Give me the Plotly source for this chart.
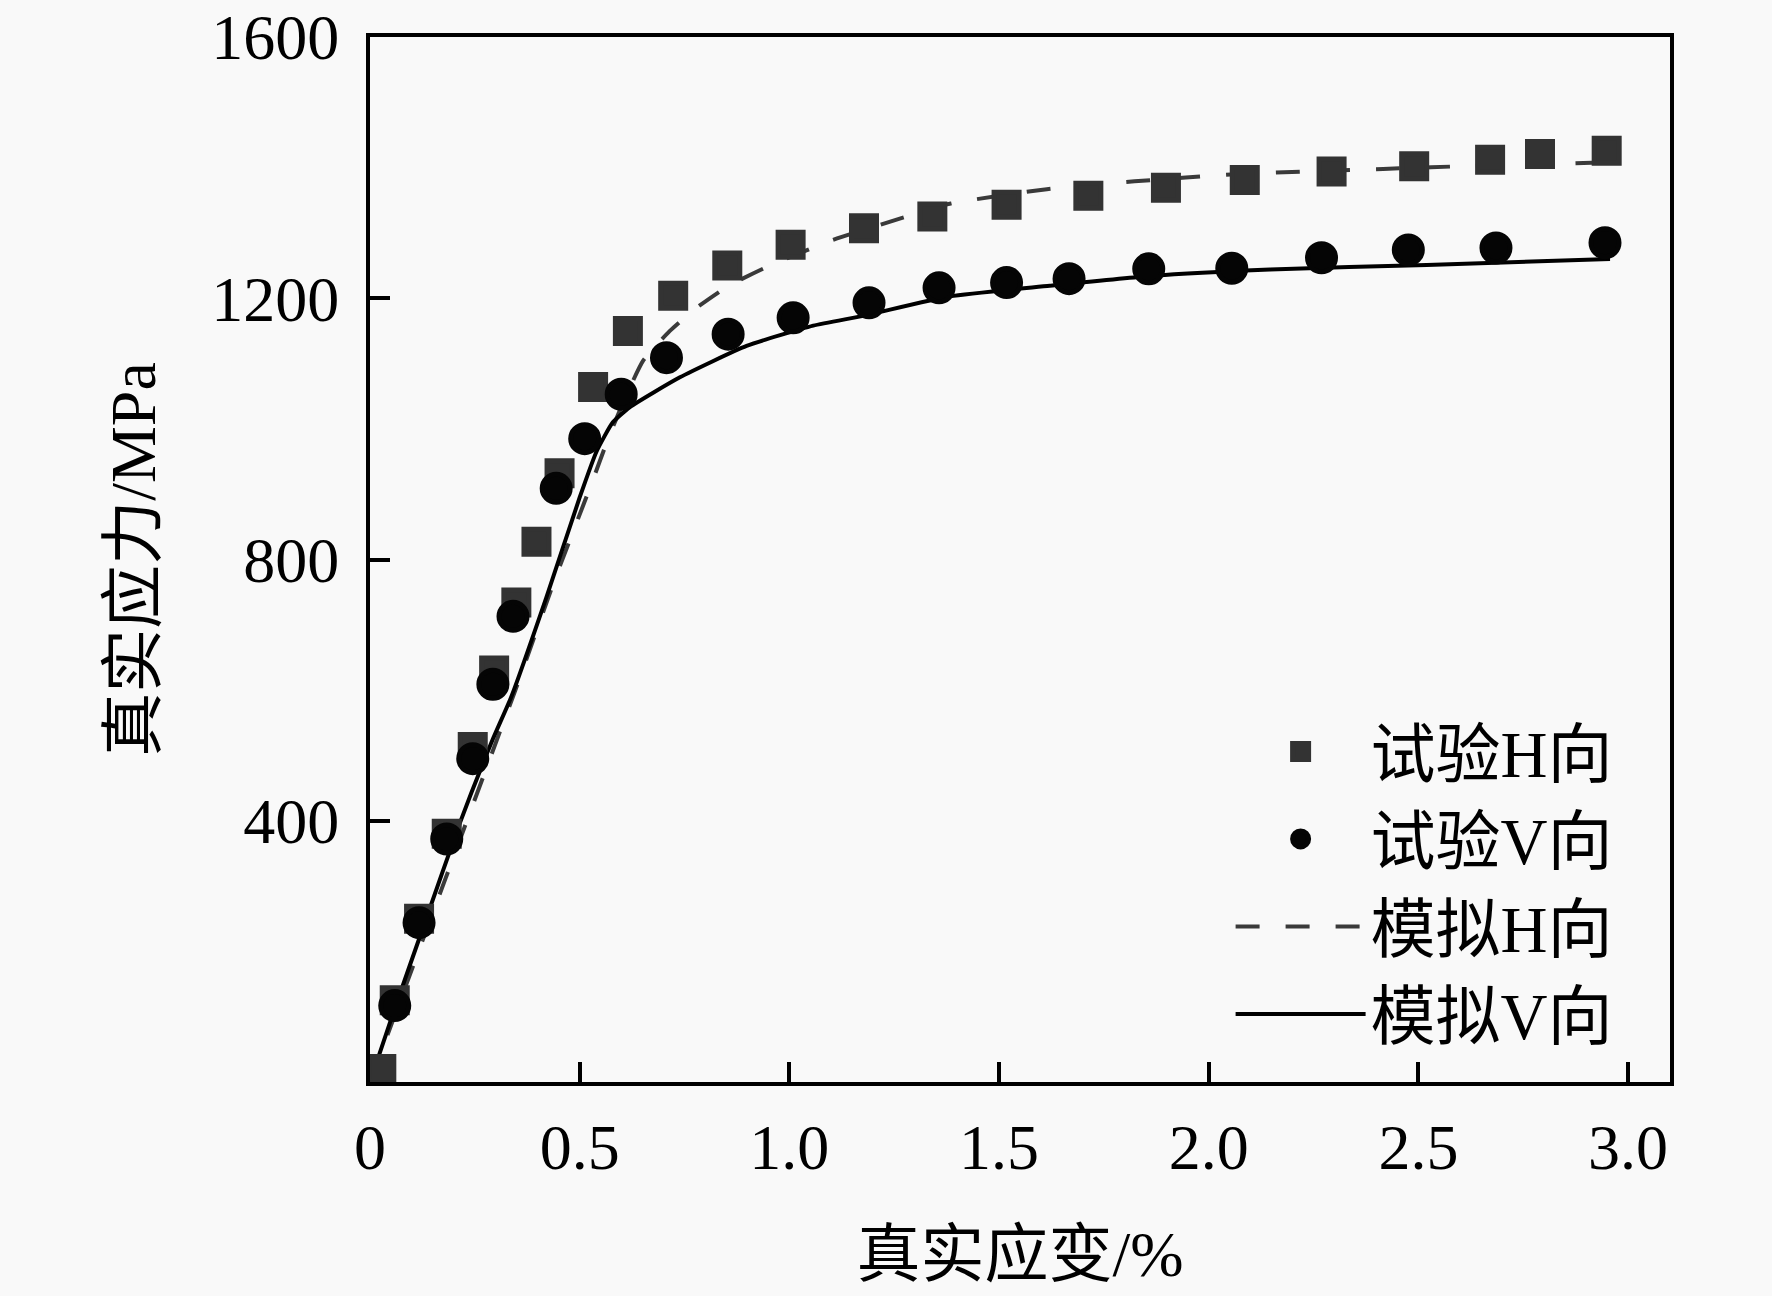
import plotly.graph_objects as go

# ---- data ----
strain_exp_H = [0.027, 0.059, 0.117, 0.183, 0.245, 0.296, 0.349, 0.397, 0.452, 0.532, 0.615, 0.723,
                0.852, 1.003, 1.178, 1.341, 1.518, 1.713, 1.898, 2.086, 2.293, 2.490, 2.671, 2.790, 2.949]
stress_exp_H = [20, 125, 250, 380, 513, 630, 734, 827, 932, 1064, 1150, 1204,
                1250, 1282, 1307, 1325, 1343, 1357, 1369, 1381, 1394, 1402, 1412, 1421, 1426]

strain_exp_V = [0.059, 0.117, 0.183, 0.245, 0.293, 0.341, 0.444, 0.512, 0.599, 0.707, 0.854,
                1.009, 1.190, 1.357, 1.518, 1.667, 1.857, 2.055, 2.269, 2.476, 2.685, 2.945]
stress_exp_V = [117, 244, 372, 495, 609, 713, 909, 985, 1053, 1109, 1145,
                1170, 1193, 1216, 1224, 1230, 1245, 1246, 1262, 1274, 1277, 1285]

strain_sim_H = [0.0, 0.118, 0.245, 0.309, 0.345, 0.444, 0.524, 0.571, 0.611, 0.651, 0.715, 0.778,
                0.855, 0.943, 1.098, 1.284, 1.385, 1.614, 1.823, 2.065, 2.416, 2.645, 2.95]
stress_sim_H = [0, 204, 424, 535, 597, 775, 909, 990, 1051, 1104, 1150, 1185,
                1219, 1247, 1288, 1326, 1345, 1367, 1379, 1390, 1398, 1403, 1408]

strain_sim_V = [0.0, 0.055, 0.134, 0.214, 0.293, 0.337, 0.42, 0.5, 0.54, 0.579, 0.619, 0.739,
                0.898, 1.057, 1.176, 1.383, 1.621, 1.860, 2.146, 2.520, 2.957]
stress_sim_V = [0, 105, 250, 396, 525, 590, 741, 895, 965, 1010, 1033, 1079,
                1127, 1158, 1173, 1203, 1219, 1234, 1244, 1251, 1260]

x_tickvals = [0, 0.5, 1.0, 1.5, 2.0, 2.5, 3.0]
x_ticktext = ["0", "0.5", "1.0", "1.5", "2.0", "2.5", "3.0"]
y_tickvals = [400, 800, 1200, 1600]
y_ticktext = ["400", "800", "1200", "1600"]

names = ["试验H向", "试验V向", "模拟H向", "模拟V向"]

FONT = "Liberation Serif, Times New Roman, Noto Sans CJK SC, serif"
BG = "#f9f9f9"

fig = go.Figure()

fig.add_trace(go.Scatter(
    x=strain_sim_H, y=stress_sim_H, mode="lines", name=names[2], legendrank=3,
    line=dict(color="#3a3a3a", width=4, dash="24px,26px", shape="spline", smoothing=0.5),
))
fig.add_trace(go.Scatter(
    x=strain_sim_V, y=stress_sim_V, mode="lines", name=names[3], legendrank=4,
    line=dict(color="#000000", width=4, shape="spline", smoothing=0.5),
))
fig.add_trace(go.Scatter(
    x=strain_exp_H, y=stress_exp_H, mode="markers", name=names[0], legendrank=1,
    marker=dict(symbol="square", size=25, color="#333333", line=dict(color="#333333", width=5)),
))
fig.add_trace(go.Scatter(
    x=strain_exp_V, y=stress_exp_V, mode="markers", name=names[1], legendrank=2,
    marker=dict(symbol="circle", size=28, color="#050505", line=dict(color="#050505", width=5)),
))

fig.update_layout(
    width=1772, height=1296,
    margin=dict(l=370, r=102, t=37, b=214, autoexpand=False),
    paper_bgcolor=BG, plot_bgcolor=BG,
    font=dict(family=FONT, size=64, color="black"),
    showlegend=True,
    legend=dict(
        x=0.662, y=0.363, xanchor="left", yanchor="top",
        bgcolor="rgba(0,0,0,0)", borderwidth=0,
        font=dict(family=FONT, size=65, color="black"),
        itemwidth=130, itemsizing="trace", tracegroupgap=0,
    ),
)

fig.update_xaxes(
    range=[0, 3.1], showline=True, linecolor="black", linewidth=4, mirror=True,
    ticks="inside", ticklen=20, tickwidth=4, tickcolor="black",
    tickvals=x_tickvals, ticktext=x_ticktext, showgrid=False, zeroline=False,
    ticklabelstandoff=6, ticklabeloverflow="allow", automargin=False,
    title=dict(text="真实应变/%", font=dict(family=FONT, size=64), standoff=50),
)
fig.update_yaxes(
    range=[0, 1600], showline=True, linecolor="black", linewidth=4, mirror=True,
    ticks="inside", ticklen=20, tickwidth=4, tickcolor="black",
    tickvals=y_tickvals, ticktext=y_ticktext, showgrid=False, zeroline=False,
    ticklabelstandoff=14, ticklabeloverflow="allow", automargin=False,
    title=dict(text="真实应力/MPa", font=dict(family=FONT, size=64), standoff=36),
)

fig.write_html(
    "out.html",
    config={"displayModeBar": False},
    post_script="document.body.style.margin='0';document.body.style.background='%s';" % BG,
)
